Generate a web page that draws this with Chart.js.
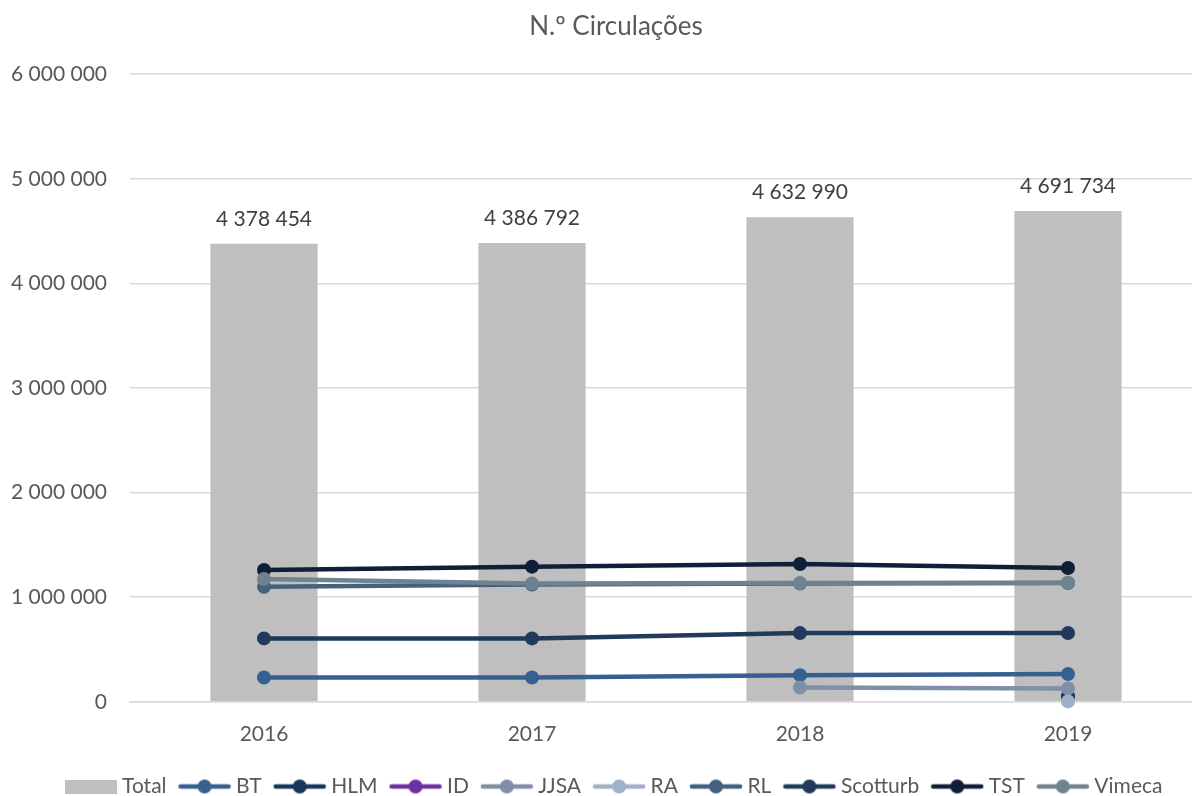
<!DOCTYPE html>
<html>
<head>
<meta charset="utf-8">
<script src="https://cdn.jsdelivr.net/npm/chart.js@4.4.0/dist/chart.umd.min.js"></script>
<style>
  body { margin: 0; overflow: hidden; background: #fff; }
  #wrap { width: 1230px; height: 807px; }
</style>
</head>
<body>
<div id="wrap"><canvas id="grafica"></canvas></div>
<script>
// dados
const anos = ['2016', '2017', '2018', '2019'];
const total = [4378454, 4386792, 4632990, 4691734];
const bt = [233000, 233000, 255000, 265000];
const hlm = [null, null, null, 52000];
const id = [null, null, null, 48000];
const jjsa = [null, null, 137000, 127000];
const ra = [null, null, null, 4000];
const rl = [1100000, 1122000, 1130000, 1136000];
const scotturb = [606000, 606000, 657000, 657000];
const tst = [1260000, 1292000, 1318000, 1279000];
const vimeca = [1174000, 1132000, 1136000, 1139000];
const yTicks = [0, 1000000, 2000000, 3000000, 4000000, 5000000, 6000000];

const series = [
    { label: 'BT', data: bt, cor: '#366092', ordem: 9 },
    { label: 'HLM', data: hlm, cor: '#17375e', ordem: 7 },
    { label: 'ID', data: id, cor: '#7030a0', ordem: 8 },
    { label: 'JJSA', data: jjsa, cor: '#7f8fa6', ordem: 6 },
    { label: 'RA', data: ra, cor: '#9fb1c6', ordem: 5 },
    { label: 'RL', data: rl, cor: '#44617f', ordem: 4 },
    { label: 'Scotturb', data: scotturb, cor: '#213a5c', ordem: 3 },
    { label: 'TST', data: tst, cor: '#0f1f38', ordem: 2 },
    { label: 'Vimeca', data: vimeca, cor: '#6f828f', ordem: 1 }
];

const fmt = v => String(v).replace(/\B(?=(\d{3})+(?!\d))/g, ' ');

// simbolos da legenda (linha com marcador)
function simboloLinha(cor) {
    const c = document.createElement('canvas');
    c.width = 54; c.height = 16;
    const g = c.getContext('2d');
    g.strokeStyle = cor; g.lineWidth = 4.5; g.lineCap = 'round';
    g.beginPath(); g.moveTo(3, 8); g.lineTo(51, 8); g.stroke();
    g.fillStyle = cor;
    g.beginPath(); g.arc(27, 8, 7, 0, Math.PI * 2); g.fill();
    return c;
}
function simboloBarra() {
    const c = document.createElement('canvas');
    c.width = 52; c.height = 14;
    const g = c.getContext('2d');
    g.fillStyle = '#bfbfbf';
    g.fillRect(0, 0, 52, 14);
    return c;
}

const rotulosBarras = {
    id: 'rotulosBarras',
    afterDatasetsDraw(chart) {
        const meta = chart.getDatasetMeta(0);
        const ctx = chart.ctx;
        ctx.save();
        ctx.font = '21px Lato';
        ctx.fillStyle = '#404040';
        ctx.textAlign = 'center';
        ctx.textBaseline = 'bottom';
        meta.data.forEach((bar, i) => {
            ctx.fillText(fmt(total[i]), bar.x, bar.y - 14);
        });
        ctx.restore();
    }
};

// desloca titulo e legenda um pouco para a direita, como no original
const deslocaBlocos = {
    id: 'deslocaBlocos',
    afterLayout(chart) {
        [chart.legend, chart.titleBlock].forEach(b => {
            if (b) { b.left += 15; b.right += 15; }
        });
    }
};

const datasets = [{
    type: 'bar',
    label: 'Total',
    data: total,
    backgroundColor: '#bfbfbf',
    barPercentage: 1,
    categoryPercentage: 0.4,
    order: 100,
    pointStyle: simboloBarra()
}];
series.forEach(s => {
    datasets.push({
        type: 'line',
        label: s.label,
        data: s.data,
        borderColor: s.cor,
        backgroundColor: s.cor,
        borderWidth: 4.5,
        pointRadius: 7,
        pointHoverRadius: 7,
        pointBorderWidth: 0,
        tension: 0,
        clip: false,
        order: s.ordem,
        pointStyle: 'circle',
        legendStyle: simboloLinha(s.cor)
    });
});

Chart.defaults.font.family = 'Lato';
Chart.defaults.color = '#595959';

new Chart(document.getElementById('grafica'), {
    data: { labels: anos, datasets: datasets },
    options: {
        responsive: true,
        maintainAspectRatio: false,
        animation: false,
        layout: { padding: { left: 0, right: 28, top: 0, bottom: 0 } },
        plugins: {
            title: {
                display: true,
                text: 'N.º Circulações',
                font: { size: 26, weight: 'normal' },
                color: '#595959',
                padding: { top: 11, bottom: 32 }
            },
            legend: {
                position: 'bottom',
                labels: {
                    usePointStyle: true,
                    pointStyleWidth: 42,
                    boxHeight: 16,
                    padding: 17,
                    font: { size: 21 },
                    color: '#595959',
                    sort: (a, b) => a.datasetIndex - b.datasetIndex,
                    generateLabels(chart) {
                        return chart.data.datasets.map((ds, i) => ({
                            text: ds.label,
                            datasetIndex: i,
                            pointStyle: ds.type === 'bar' ? ds.pointStyle : ds.legendStyle,
                            fillStyle: ds.backgroundColor,
                            strokeStyle: ds.backgroundColor,
                            lineWidth: 0,
                            fontColor: '#595959',
                            hidden: false
                        }));
                    }
                }
            },
            tooltip: { enabled: false }
        },
        scales: {
            x: {
                grid: { display: false },
                border: { color: '#d9d9d9', width: 1.5 },
                ticks: { font: { size: 21 }, color: '#595959', padding: 12 }
            },
            y: {
                min: 0,
                max: 6000000,
                afterBuildTicks: axis => { axis.ticks = yTicks.map(v => ({ value: v })); },
                afterFit: axis => { axis.width = 130; },
                grid: { color: '#d9d9d9', lineWidth: 1.5, drawTicks: false },
                border: { display: false },
                ticks: {
                    font: { size: 21 },
                    color: '#595959',
                    padding: 23,
                    callback: v => fmt(v)
                }
            }
        }
    },
    plugins: [rotulosBarras, deslocaBlocos]
});
</script>
</body>
</html>
